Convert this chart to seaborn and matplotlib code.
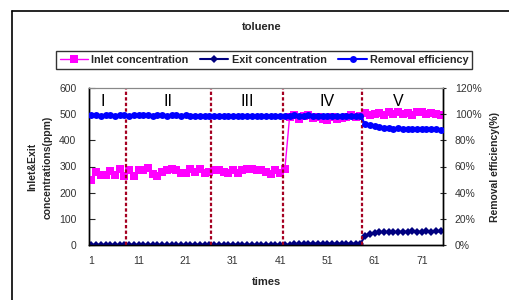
import numpy as np
import pandas as pd
import matplotlib
matplotlib.use('Agg')
import matplotlib.pyplot as plt
import seaborn as sns
from matplotlib.lines import Line2D
from matplotlib.ticker import MultipleLocator, FixedLocator

# data
times = list(range(1, 76))

inlet = [250, 280, 268, 268, 282, 268, 290, 265, 285, 262,
         288, 285, 295, 272, 262, 278, 285, 290, 285, 275,
         275, 290, 278, 290, 275, 280, 285, 288, 280, 275,
         285, 275, 285, 290, 292, 288, 285, 280, 270, 285,
         275, 290,
         490, 495, 480, 492, 495, 485, 490, 482, 478, 488,
         482, 485, 490, 495, 488, 492,
         505, 498, 500, 503, 498, 508, 500, 510, 500, 505,
         498, 510, 508, 502, 505, 500, 495]

exit_conc = [1, 0, 1, 0, 1, 0, 0, 1, 0, 1,
             0, 1, 0, 1, 0, 1, 0, 1, 1, 0,
             1, 1, 1, 1, 1, 1, 1, 1, 1, 1,
             1, 1, 1, 1, 1, 1, 1, 1, 1, 1,
             1, 1, 1, 2,
             4, 4, 5, 5, 5, 5, 5, 5, 5, 5, 5, 5, 5, 5,
             35, 43, 47, 49, 50, 50, 50, 50, 51, 51,
             53, 51, 50, 52, 51, 52, 52]

efficiency = [99.0, 99.2, 98.8, 99.0, 99.3, 98.9, 99.1, 99.0, 98.7, 99.2,
              99.0, 99.3, 99.1, 98.8, 99.0, 99.2, 98.9, 99.4, 99.0, 98.8,
              99.0, 98.9, 98.8, 98.9, 98.7, 98.9, 98.8, 98.7, 98.6, 98.5,
              98.5, 98.6, 98.9, 98.6, 98.7, 98.9, 98.7, 98.6, 98.8, 98.7,
              98.9, 98.8, 98.9, 99.0, 98.9, 98.8, 99.0, 98.7, 98.9, 98.8,
              98.7, 98.9, 98.6, 98.8, 98.7, 98.8, 98.6, 98.5,
              92.5, 91.6, 90.8, 90.2, 89.6, 89.2, 89.0, 89.2, 88.9, 88.9,
              89.0, 88.6, 88.8, 88.5, 88.4, 88.6, 88.1]

stage_bounds = [8.3, 26.3, 41.5, 58.3]
stage_names = ['I', 'II', 'III', 'IV', 'V']
stage_pos = [3.4, 17.3, 34.0, 50.9, 66.1]

df = pd.DataFrame({'times': times, 'inlet': inlet, 'exit': exit_conc,
                   'eff': efficiency})

sns.set_style('white')
plt.rcParams['font.family'] = ['Liberation Sans', 'DejaVu Sans']

fig = plt.figure(figsize=(5.1, 3.0), dpi=100)
ax = fig.add_axes([89 / 510, 55 / 300, 354 / 510, 157 / 300])
ax2 = ax.twinx()

sns.lineplot(data=df, x='times', y='inlet', ax=ax, color='#FF00FF', marker='s',
             markersize=5.2, markeredgewidth=0, linewidth=1, label='Inlet concentration',
             legend=False, zorder=3)
sns.lineplot(data=df, x='times', y='exit', ax=ax, color='#000080', marker='D',
             markersize=4, markeredgewidth=0, linewidth=1.5, label='Exit concentration',
             legend=False, zorder=4)
sns.lineplot(data=df, x='times', y='eff', ax=ax2, color='#0000FF', marker='o',
             markersize=5, markeredgewidth=0, linewidth=1.5, label='Removal efficiency',
             legend=False, zorder=3)

# stage separators and labels
for b in stage_bounds:
    ax.axvline(b, color='#A50021', linestyle=(0, (1.5, 1)), linewidth=1.6, zorder=5)
for name, p in zip(stage_names, stage_pos):
    ax.text(p, 548, name, ha='center', va='center', fontsize=11.5, color='black')

ax.set_xlim(0.5, 75.5)
ax.set_ylim(0, 600)
ax2.set_ylim(0, 120)

ax.xaxis.set_major_locator(FixedLocator([1, 11, 21, 31, 41, 51, 61, 71]))
ax.xaxis.set_minor_locator(MultipleLocator(1, offset=0.5))
ax.yaxis.set_major_locator(MultipleLocator(100))
ax2.yaxis.set_major_locator(MultipleLocator(20))
ax2.set_yticklabels([f'{int(v)}%' for v in ax2.get_yticks()])

ax.tick_params(axis='x', which='major', length=0, pad=8, labelsize=7.5, labelcolor='#333333')
ax.tick_params(axis='x', which='minor', direction='in', length=3, width=0.8, color='black')
ax.tick_params(axis='y', direction='in', length=4, width=0.8, labelsize=7.5,
               labelcolor='#333333', pad=9, left=True)
ax2.tick_params(axis='y', direction='inout', length=5, width=0.8, labelsize=7.5,
                labelcolor='#333333', pad=6, right=True)

for a in (ax, ax2):
    a.spines['top'].set_color('#888888')
    a.spines['top'].set_linewidth(0.8)
    for s in ('left', 'right', 'bottom'):
        a.spines[s].set_color('black')
        a.spines[s].set_linewidth(1)

ax.set_xlabel('')
ax.set_ylabel('')
ax2.set_ylabel('')

fig.text(40 / 510, 1 - 167 / 300, 'Inlet&Exit\nconcentrations(ppm)', rotation=90,
         ha='center', va='center', fontsize=7.5, fontweight='bold', linespacing=1.6)
fig.text(495 / 510, 1 - 167 / 300, 'Removal efficiency(%)', rotation=90,
         ha='center', va='center', fontsize=7.5, fontweight='bold')
fig.text(267 / 510, 1 - 282 / 300, 'times', ha='center', va='center',
         fontsize=8, fontweight='bold')
fig.text(262 / 510, 1 - 27 / 300, 'toluene', ha='center', va='center',
         fontsize=8, fontweight='bold')

h1, l1 = ax.get_legend_handles_labels()
h2, l2 = ax2.get_legend_handles_labels()
leg = fig.legend(h1 + h2, l1 + l2, loc='center', bbox_to_anchor=(264 / 510, 1 - 60 / 300),
                 ncol=3, prop={'weight': 'bold', 'size': 7.8},
                 frameon=True, fancybox=False, edgecolor='black', handlelength=2.6,
                 handletextpad=0.3, columnspacing=1.1, borderpad=0.35, markerscale=1.0)
leg.get_frame().set_linewidth(1)

# chart area border (only left and top edges fall inside the picture)
x0, y0 = 12.5 / 510, 1 - 10.5 / 300
fig.lines.append(Line2D([x0, x0], [0, y0], transform=fig.transFigure, color='black', linewidth=1.2))
fig.lines.append(Line2D([x0, 1], [y0, y0], transform=fig.transFigure, color='black', linewidth=1.2))

fig.savefig('out.png', dpi=100)
